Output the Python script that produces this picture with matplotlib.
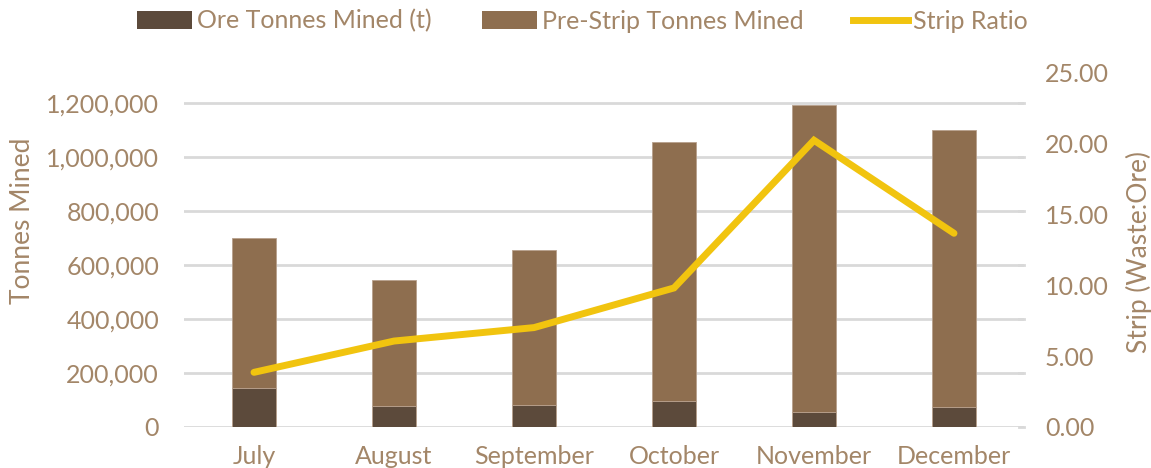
import matplotlib
matplotlib.use("Agg")
import matplotlib.pyplot as plt
import numpy as np
from matplotlib.patches import Patch
from matplotlib.lines import Line2D

# data
months = ["July", "August", "September", "October", "November", "December"]
ore_tonnes = [144000, 78000, 83000, 96000, 56000, 74000]
prestrip_tonnes = [557000, 468000, 574000, 960000, 1135000, 1027000]
strip_ratio = [3.86, 6.07, 7.02, 9.82, 20.25, 13.68]
left_ticks = [0, 200000, 400000, 600000, 800000, 1000000, 1200000]
right_ticks = [0, 5, 10, 15, 20, 25]

ORE = "#5C4A3B"
PRE = "#8E6E4F"
LINE = "#F1C40F"
TXT = "#A38668"
GRID = "#D9D9D9"

plt.rcParams["font.family"] = ["Lato", "DejaVu Sans"]

fig = plt.figure(figsize=(11.51, 4.68), dpi=100)
ax = fig.add_axes([184 / 1151, 1 - 427 / 468, 840 / 1151, 354 / 468])
ax2 = ax.twinx()

x = np.arange(len(months))
w = 0.314
ax.bar(x, ore_tonnes, w, color=ORE, edgecolor="#B7A08C", linewidth=0.6, zorder=2)
ax.bar(x, prestrip_tonnes, w, bottom=ore_tonnes, color=PRE, edgecolor="#B7A08C",
       linewidth=0.6, zorder=2)

ax.set_xlim(-0.5, len(months) - 0.5)
ax.set_ylim(0, 1311000)
ax.set_yticks(left_ticks)
ax.set_yticklabels([f"{v:,.0f}" for v in left_ticks])
ax.set_xticks(x)
ax.set_xticklabels(months)
for v in left_ticks:
    ax.axhline(v, color=GRID, linewidth=2, zorder=0)
for s in ax.spines.values():
    s.set_visible(False)
ax.tick_params(axis="y", length=0, pad=18, labelsize=18, labelcolor=TXT)
ax.tick_params(axis="x", length=0, pad=13, labelsize=18, labelcolor=TXT)
ax.set_ylabel("Tonnes Mined", fontsize=19, color=TXT)
ax.yaxis.set_label_coords(-0.177, 0.582)

ax2.plot(x, strip_ratio, color=LINE, linewidth=5, solid_capstyle="round",
         solid_joinstyle="miter", zorder=3)
ax2.set_ylim(0, 25)
ax2.set_yticks(right_ticks)
ax2.set_yticklabels([f"{v:.2f}" for v in right_ticks])
for s in ax2.spines.values():
    s.set_visible(False)
ax2.tick_params(axis="y", length=0, pad=15, labelsize=18, labelcolor=TXT)
ax2.set_ylabel("Strip (Waste:Ore)", fontsize=19, color=TXT)
ax2.yaxis.set_label_coords(1.121, 0.495)

# small grey tick marks on the right edge at the left-axis grid positions
for v in left_ticks:
    ax.plot([len(months) - 0.5 - 0.035, len(months) - 0.5], [v, v], color=GRID,
            linewidth=2, clip_on=False, zorder=1)

handles = [Patch(facecolor=ORE), Patch(facecolor=PRE), Line2D([], [], color=LINE, linewidth=5)]
labels = ["Ore Tonnes Mined (t)", "Pre-Strip Tonnes Mined", "Strip Ratio"]
leg = fig.legend(handles, labels, loc="center", bbox_to_anchor=(0.506, 0.955), ncol=3,
                 frameon=False, fontsize=18, handlelength=2.2, handletextpad=0.2,
                 columnspacing=2.0, labelcolor=TXT)

fig.savefig("out.png", dpi=100)
